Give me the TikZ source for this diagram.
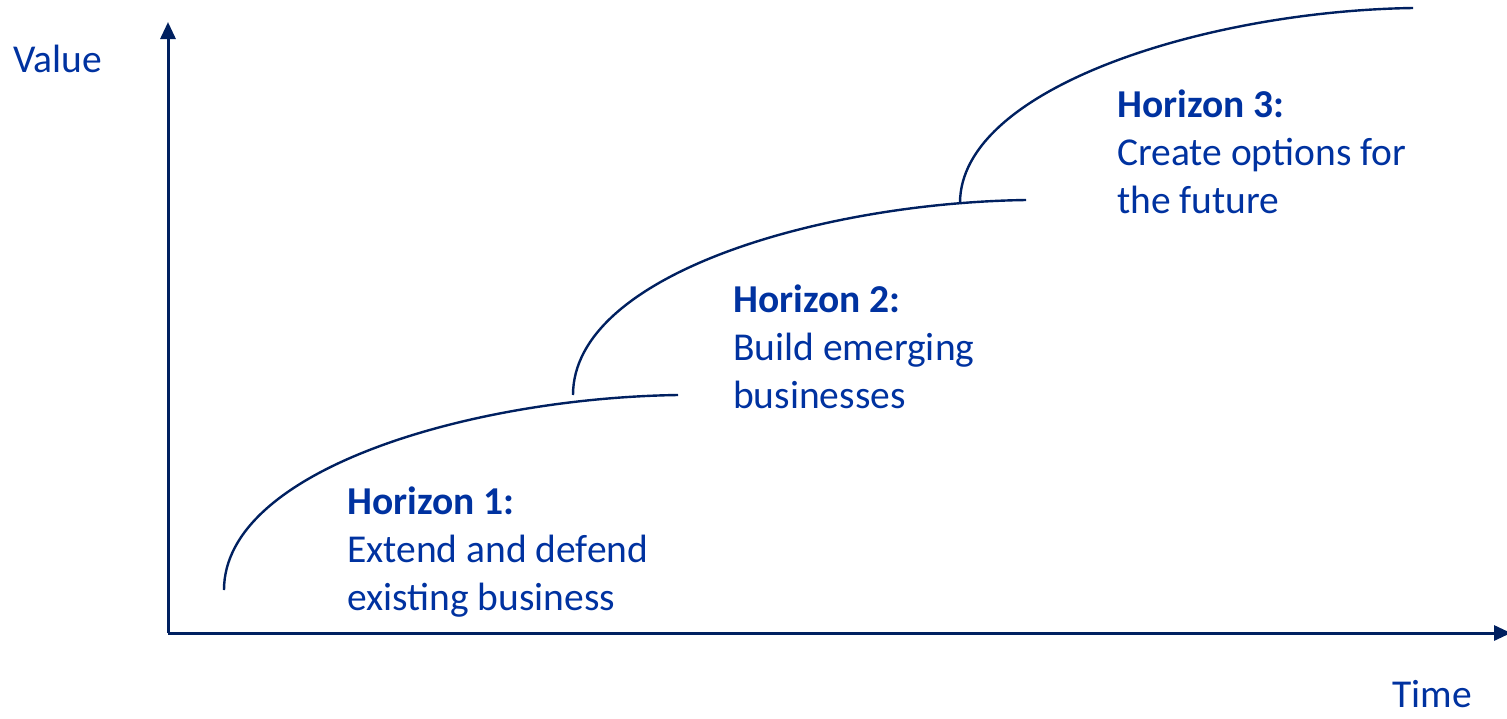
\documentclass[tikz,border=0pt]{standalone}
\usepackage{fontspec}
\setmainfont{Carlito}
\usetikzlibrary{arrows.meta}
\definecolor{navy}{RGB}{0,32,96}
\definecolor{txtblue}{RGB}{0,50,160}
\begin{document}
\begin{tikzpicture}[x=1pt,y=-1pt,
  axis/.style={draw=navy,line width=3pt,-{Triangle[width=15pt,length=17pt]}},
  curve/.style={draw=navy,line width=2.4pt},
  lbl/.style={text=txtblue,font=\fontsize{39.5}{48}\selectfont,inner sep=0pt,align=left,anchor=north west},
  axlbl/.style={text=txtblue,font=\fontsize{39.5}{48}\selectfont,inner sep=0pt,anchor=base west}]
\useasboundingbox (0,0) rectangle (1507,718);
\coordinate (o) at (168,633);
\coordinate (ytop) at (168,22);
\coordinate (xend) at (1511,633);
\draw[axis] (o) -- (ytop);
\draw[axis] (o) -- (xend);
\node[axlbl] (value) at (13,72) {Value};
\node[axlbl] (time) at (1392,707) {Time};
\coordinate (a1) at (224,590);
\coordinate (b1) at (678,395);
\coordinate (a2) at (573,395);
\coordinate (b2) at (1026,200);
\coordinate (a3) at (960,203);
\coordinate (b3) at (1413,8);
\draw[curve] (a1) .. controls (224,470) and (470,398) .. (b1);
\draw[curve] (a2) .. controls (573,275) and (819,203) .. (b2);
\draw[curve] (a3) .. controls (960,88) and (1206,11) .. (b3);
\node[lbl] (h1) at (347,487) {\textbf{Horizon 1:}\\Extend and defend\\existing business};
\node[lbl] (h2) at (733,285) {\textbf{Horizon 2:}\\Build emerging\\businesses};
\node[lbl] (h3) at (1117,90) {\textbf{Horizon 3:}\\Create options for\\the future};
\end{tikzpicture}
\end{document}
